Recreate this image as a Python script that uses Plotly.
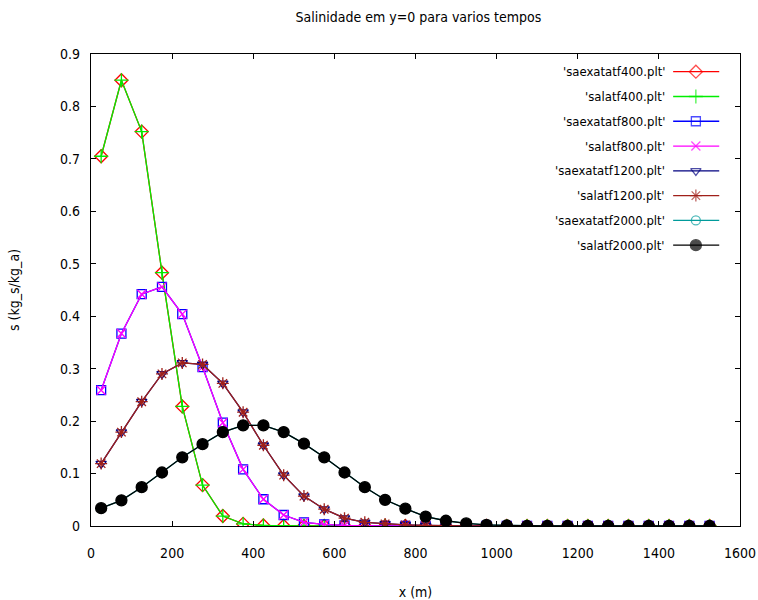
import plotly.graph_objects as go

# Distance along y=0 (m)
x_m = [25, 75, 125, 175, 225, 275, 325, 375, 425, 475, 525, 575, 625, 675, 725, 775,
       825, 875, 925, 975, 1025, 1075, 1125, 1175, 1225, 1275, 1325, 1375, 1425, 1475, 1525]

# Salinity profiles (kg_s/kg_a) for each output time
s_t400 = [0.705, 0.850, 0.752, 0.483, 0.228, 0.078, 0.019, 0.004, 0.001, 0.0, 0.0, 0.0, 0.0,
          0.0, 0.0, 0.0, 0.0, 0.0, 0.0, 0.0, 0.0, 0.0, 0.0, 0.0, 0.0, 0.0, 0.0, 0.0, 0.0, 0.0, 0.0]
s_t800 = [0.259, 0.367, 0.442, 0.456, 0.404, 0.303, 0.197, 0.108, 0.051, 0.021, 0.007, 0.003,
          0.001, 0.0, 0.0, 0.0, 0.0, 0.0, 0.0, 0.0, 0.0, 0.0, 0.0, 0.0, 0.0, 0.0, 0.0, 0.0, 0.0, 0.0, 0.0]
s_t1200 = [0.119, 0.179, 0.237, 0.290, 0.311, 0.308, 0.272, 0.217, 0.154, 0.097, 0.057, 0.032,
           0.015, 0.007, 0.004, 0.002, 0.001, 0.0, 0.0, 0.0, 0.0, 0.0, 0.0, 0.0, 0.0, 0.0, 0.0,
           0.0, 0.0, 0.0, 0.0]
s_t2000 = [0.034, 0.049, 0.074, 0.102, 0.131, 0.156, 0.179, 0.192, 0.192, 0.179, 0.157, 0.131,
           0.102, 0.074, 0.050, 0.033, 0.018, 0.010, 0.005, 0.002, 0.001, 0.0, 0.0, 0.0, 0.0,
           0.0, 0.0, 0.0, 0.0, 0.0, 0.0]

x_ticks = [0, 200, 400, 600, 800, 1000, 1200, 1400, 1600]
y_ticks = [0, 0.1, 0.2, 0.3, 0.4, 0.5, 0.6, 0.7, 0.8, 0.9]

FONT = "Liberation Sans Narrow, Arial Narrow, DejaVu Sans Condensed, Liberation Sans, sans-serif"

# name, values, color, symbol, marker size
series = [
    ("'saexatatf400.plt'", s_t400, "#ff0000", "diamond-open", 10),
    ("'salatf400.plt'", s_t400, "#00ee00", "cross-thin-open", 10),
    ("'saexatatf800.plt'", s_t800, "#0000ff", "square-open", 9),
    ("'salatf800.plt'", s_t800, "#ff00ff", "x-thin-open", 9),
    ("'saexatatf1200.plt'", s_t1200, "#000080", "triangle-down-open", 9),
    ("'salatf1200.plt'", s_t1200, "#a0201a", "asterisk-open", 10),
    ("'saexatatf2000.plt'", s_t2000, "#009b9b", "circle-open", 9),
    ("'salatf2000.plt'", s_t2000, "#000000", "circle", 11),
]

fig = go.Figure()

for name, vals, color, sym, size in series:
    fig.add_trace(go.Scatter(
        x=x_m, y=vals, name=name, mode="lines+markers",
        line=dict(color=color, width=1.3),
        marker=dict(symbol=sym, size=size, color=color,
                    line=dict(color=color, width=1.3)),
        showlegend=False,
    ))

# Key drawn gnuplot-style: label on the left, sample line with marker on the right
key_top = 0.9625
key_step = 0.0525
key_x0, key_xm, key_x1 = 0.897, 0.932, 0.968
annotations = []
for i, (name, vals, color, sym, size) in enumerate(series):
    ky = key_top - i * key_step
    fig.add_trace(go.Scatter(
        x=[key_x0, key_xm, key_x1], y=[ky, ky, ky], xaxis="x2", yaxis="y2",
        mode="lines+markers", hoverinfo="skip", showlegend=False,
        line=dict(color=color, width=1.3),
        marker=dict(symbol=sym, size=[0, size, 0], color=color,
                    line=dict(color=color, width=1.3)),
    ))
    annotations.append(dict(
        x=0.8875, y=ky, xref="paper", yref="paper", text=name, showarrow=False,
        xanchor="right", yanchor="middle", font=dict(family=FONT, size=13, color="#000000"),
    ))

fig.update_layout(
    width=758, height=600,
    margin=dict(l=91, r=18, t=54, b=74),
    paper_bgcolor="white", plot_bgcolor="white",
    font=dict(family=FONT, size=14, color="#000000"),
    title=dict(text="Salinidade em y=0 para varios tempos", x=0.552, xanchor="center",
               y=0.972, yanchor="middle", font=dict(family=FONT, size=14)),
    xaxis=dict(range=[0, 1600], tickvals=x_ticks, ticks="inside", ticklen=5,
               showline=True, linecolor="black", linewidth=1.2, mirror="ticks",
               showgrid=False, zeroline=False, tickcolor="black", automargin=False,
               ticklabelstandoff=14,
               title=dict(text="x (m)", standoff=30, font=dict(size=14))),
    yaxis=dict(range=[0, 0.9], tickvals=y_ticks, ticks="inside", ticklen=5,
               showline=True, linecolor="black", linewidth=1.2, mirror="ticks",
               showgrid=False, zeroline=False, tickcolor="black", automargin=False,
               ticklabelstandoff=7,
               title=dict(text="s (kg_s/kg_a)", standoff=37, font=dict(size=14))),
    xaxis2=dict(range=[0, 1], overlaying="x", visible=False, fixedrange=True),
    yaxis2=dict(range=[0, 1], overlaying="y", visible=False, fixedrange=True),
    annotations=annotations,
    showlegend=False,
)

fig.write_html("out.html")
